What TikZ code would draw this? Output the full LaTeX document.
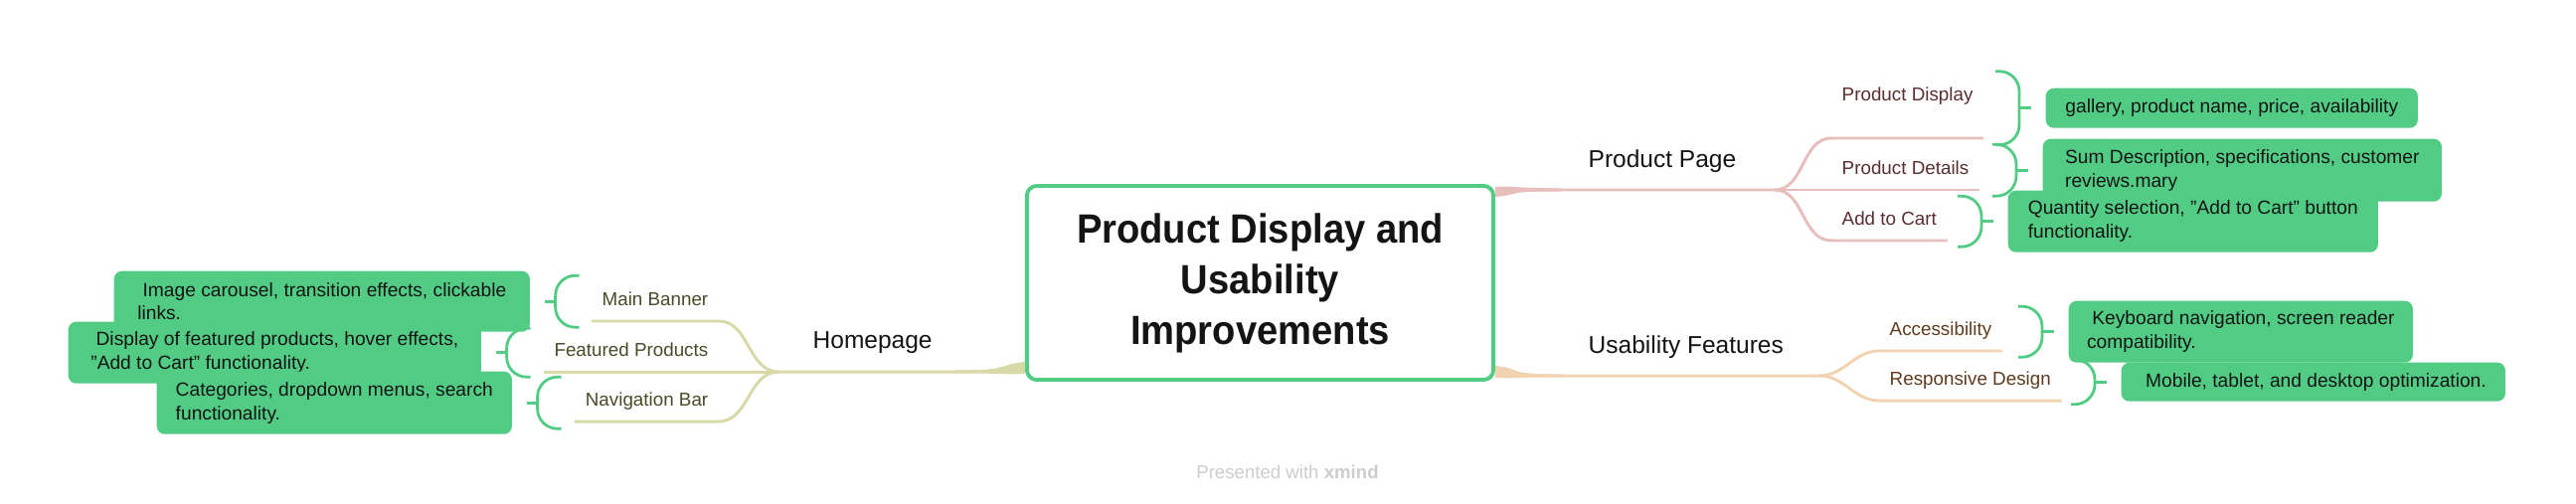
\documentclass[tikz,border=0pt]{standalone}
\usepackage{fontspec}
\setmainfont{Liberation Sans}
\newfontfamily\condfont{Liberation Sans}[FakeStretch=0.93]
\usetikzlibrary{positioning,calc}
\definecolor{leaf}{HTML}{52CC84}
\definecolor{ink}{HTML}{141414}
\definecolor{rose}{HTML}{E7BEBB}
\definecolor{sand}{HTML}{F2D3B1}
\definecolor{olive}{HTML}{D8D9A9}
\definecolor{rosetext}{HTML}{5A2E2E}
\definecolor{sandtext}{HTML}{5E3B1C}
\definecolor{olivetext}{HTML}{4A4A28}
\definecolor{faint}{HTML}{CDCDCD}
\tikzset{
 central/.style={draw=leaf,fill=white,line width=1.1pt,rounded corners=0.1cm,minimum width=4.69cm,minimum height=1.95cm,align=center,text=ink,font=\condfont\bfseries\fontsize{11.67}{14.5}\selectfont},
 topic/.style={anchor=base west,inner sep=0pt,text=ink,font=\fontsize{6.97}{8.4}\selectfont},
 subr/.style={anchor=south west,inner xsep=0.1cm,inner ysep=0pt,text depth=0.145cm,font=\fontsize{5.35}{6.4}\selectfont},
 subl/.style={subr,anchor=south east},
 leafbox/.style={fill=leaf,rounded corners=0.08cm,anchor=north west,align=left,inner xsep=0.15cm,inner ysep=0pt,text=ink,font=\fontsize{5.46}{6.74}\selectfont},
 rosebranch/.style={draw=rose,line width=0.85pt},
 sandbranch/.style={draw=sand,line width=0.85pt},
 olivebranch/.style={draw=olive,line width=0.85pt},
 brace/.style={draw=leaf,line width=0.8pt,rounded corners=0.2cm},
 credit/.style={text=faint,font=\fontsize{5.3}{6.3}\selectfont}
}

\begin{document}
\begin{tikzpicture}[x=0.01cm,y=-0.01cm]
  \fill[white] (0,0) rectangle (2591,506);
  \useasboundingbox (0,0) rectangle (2591,506);

  \node[central] (root) at (1267.5,284.5) {Product Display and\\Usability\\Improvements};

  % main topics
  \node[topic] (prodpage) at (1597,168) {Product Page};
  \node[topic] (usability) at (1597,355) {Usability Features};
  \node[topic] (homepage) at (817,350) {Homepage};
  \coordinate (jpp) at (1785,191);
  \coordinate (jus) at (1830,378);
  \coordinate (jhp) at (783,374);

  % subtopics
  \node[subr,text=rosetext,text depth=0.37cm] (pdisplay) at (1842,139) {Product Display};
  \node[subr,text=rosetext] (pdetails) at (1842,191) {Product Details};
  \node[subr,text=rosetext] (pcart) at (1842,242) {Add to Cart};
  \node[subr,text=sandtext] (access) at (1890,353) {Accessibility};
  \node[subr,text=sandtext] (respons) at (1890,403) {Responsive Design};
  \node[subl,text=olivetext] (banner) at (723,323) {Main Banner};
  \node[subl,text=olivetext] (featured) at (723,374) {Featured Products};
  \node[subl,text=olivetext] (navbar) at (723,424) {Navigation Bar};

  % notes
  \node[leafbox,minimum width=4.18cm,minimum height=0.61cm] (carousel) at (114,272) {\hspace*{1.5pt}Image carousel, transition effects, clickable\\links.};
  \node[leafbox,minimum width=4.15cm,minimum height=0.62cm] (showcase) at (68,323) {\hspace*{1.5pt}Display of featured products, hover effects,\\"Add to Cart" functionality.};
  \node[leafbox,minimum width=3.57cm,minimum height=0.63cm] (menus) at (157,373) {Categories, dropdown menus, search\\functionality.};
  \node[leafbox,minimum width=3.74cm,minimum height=0.40cm] (gallery) at (2057,88) {gallery, product name, price, availability};
  \node[leafbox,minimum width=4.01cm,minimum height=0.63cm] (specs) at (2054,139) {Sum Description, specifications, customer\\reviews.mary};
  \node[leafbox,minimum width=3.72cm,minimum height=0.62cm] (qty) at (2019,191) {Quantity selection, "Add to Cart" button\\functionality.};
  \node[leafbox,minimum width=3.46cm,minimum height=0.62cm] (keyboard) at (2080,302) {\hspace*{1.5pt}Keyboard navigation, screen reader\\compatibility.};
  \node[leafbox,minimum width=3.86cm,minimum height=0.39cm] (devices) at (2133,364) {\hspace*{1.5pt}Mobile, tablet, and desktop optimization.};

  % branches
  \coordinate (ppS) at ($(root.north east)+(0,8)$);
  \coordinate (usS) at ($(root.south east)+(0,-12)$);
  \coordinate (hpS) at ($(root.south west)+(0,-17)$);
  \fill[rose] ($(ppS)+(0,-5)$) .. controls +(30,-1.5) and +(-60,0) .. ($(jpp)+(-215,-1.5)$) -- ($(jpp)+(-215,1.5)$) .. controls +(-60,0) and +(30,-3) .. ($(ppS)+(0,5)$) -- cycle;
  \draw[rosebranch] (ppS) .. controls +(25,-5) and +(-40,0) .. ($(jpp)+(-215,0)$) -- (jpp);
  \fill[sand] ($(usS)+(0,-4)$) .. controls +(30,3) and +(-60,0) .. ($(jus)+(-260,-1.5)$) -- ($(jus)+(-260,1.5)$) .. controls +(-60,0) and +(30,1) .. ($(usS)+(0,8)$) -- cycle;
  \draw[sandbranch] (usS) .. controls +(25,5) and +(-40,0) .. ($(jus)+(-260,0)$) -- (jus);
  \fill[olive] ($(hpS)+(0,-3)$) .. controls +(-30,3) and +(60,0) .. ($(jhp)+(177,-1.5)$) -- ($(jhp)+(177,1.5)$) .. controls +(60,0) and +(-30,1) .. ($(hpS)+(0,9)$) -- cycle;
  \draw[olivebranch] (hpS) .. controls +(-25,6) and +(40,0) .. ($(jhp)+(177,0)$) -- (jhp);

  \draw[rosebranch] (jpp) to[out=0,in=180] (pdisplay.south west) -- (pdisplay.south east);
  \draw[rosebranch] (jpp) -- (pdetails.south east);
  \draw[rosebranch] (jpp) to[out=0,in=180] (pcart.south west) -- (pcart.south east);
  \draw[sandbranch] (jus) to[out=0,in=180] (access.south west) -- (access.south east);
  \draw[sandbranch] (jus) to[out=0,in=180] (respons.south west) -- (respons.south east);
  \draw[olivebranch] (jhp) to[out=180,in=0] (banner.south east) -- (banner.south west);
  \draw[olivebranch] (jhp) -- (featured.south west);
  \draw[olivebranch] (jhp) to[out=180,in=0] (navbar.south east) -- (navbar.south west);

  % brackets
  \foreach \b/\h in {gallery/37,specs/26,qty/25.5,keyboard/25.5,devices/22.5}{
    \draw[brace] ($(\b.west)+(-50,-\h)$) -- ($(\b.west)+(-26,-\h)$) -- ($(\b.west)+(-26,\h)$) -- ($(\b.west)+(-50,\h)$);
    \draw[brace] ($(\b.west)+(-26,0)$) -- ($(\b.west)+(-14,0)$);
  }
  \foreach \b/\h in {carousel/26,showcase/24.5,menus/26}{
    \draw[brace] ($(\b.east)+(49,-\h)$) -- ($(\b.east)+(25,-\h)$) -- ($(\b.east)+(25,\h)$) -- ($(\b.east)+(49,\h)$);
    \draw[brace] ($(\b.east)+(25,0)$) -- ($(\b.east)+(14,0)$);
  }

  \node[credit] (credit) at (1295,475) {Presented with \textbf{xmind}};
\end{tikzpicture}
\end{document}
